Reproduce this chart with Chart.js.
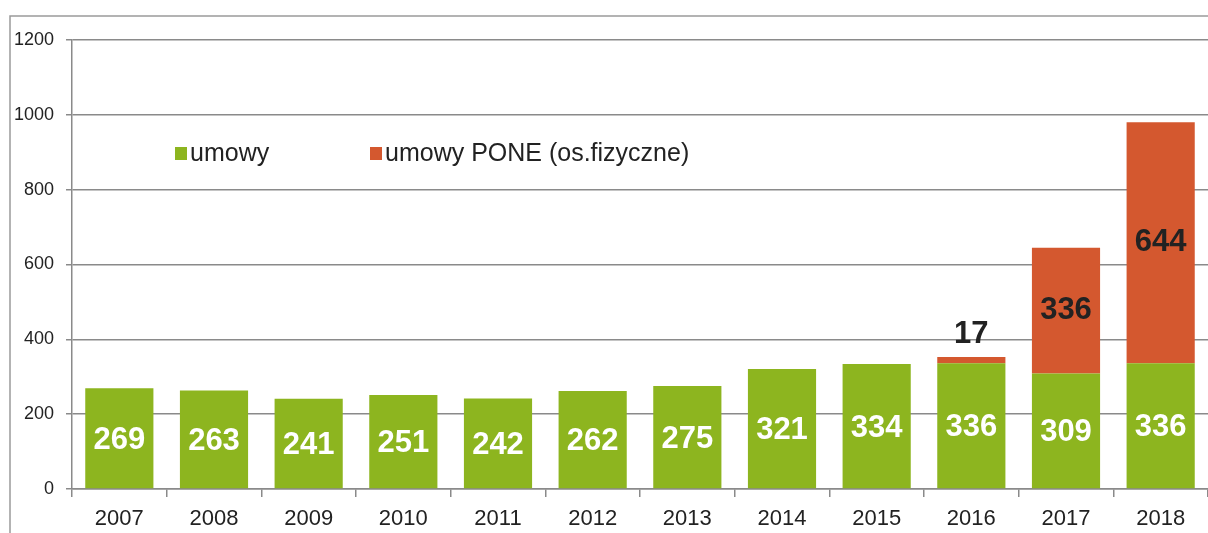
<!DOCTYPE html>
<html>
<head>
<meta charset="utf-8">
<script src="https://cdn.jsdelivr.net/npm/chart.js@4"></script>
<style>
  body { margin: 0; background: #fff; }
  canvas { display: block; }
</style>
</head>
<body>
<canvas id="umowyChart" width="1208" height="533"></canvas>
<script>
const lata = ["2007", "2008", "2009", "2010", "2011", "2012", "2013", "2014", "2015", "2016", "2017", "2018"];
const umowy = [269, 263, 241, 251, 242, 262, 275, 321, 334, 336, 309, 336];
const umowyPone = [null, null, null, null, null, null, null, null, null, 17, 336, 644];
const osY = [0, 200, 400, 600, 800, 1000, 1200];

const ZIELONY = "#8db51f";
const CZERWONY = "#d4582f";
const FONT = "'Liberation Sans', Arial, sans-serif";

// ramka, legenda i etykiety rysowane recznie
const dodatki = {
  id: "dodatki",
  beforeDraw(chart) {
    const ctx = chart.ctx;
    ctx.save();
    ctx.strokeStyle = "#9a9a9a";
    ctx.lineWidth = 1.5;
    ctx.beginPath();
    ctx.moveTo(10, 533);
    ctx.lineTo(10, 16);
    ctx.lineTo(1208, 16);
    ctx.stroke();
    ctx.restore();
  },
  afterDatasetsDraw(chart) {
    const ctx = chart.ctx;
    ctx.save();
    ctx.textAlign = "center";
    ctx.textBaseline = "middle";
    ctx.font = "bold 31px " + FONT;

    chart.data.datasets.forEach((ds, i) => {
      const meta = chart.getDatasetMeta(i);
      meta.data.forEach((bar, j) => {
        const v = ds.data[j];
        if (v == null) return;
        const h = Math.abs(bar.base - bar.y);
        if (i === 0) {
          ctx.fillStyle = "#ffffff";
          ctx.fillText(v, bar.x, (bar.y + bar.base) / 2 + 2);
        } else {
          ctx.fillStyle = "#222";
          if (h < 30) ctx.fillText(v, bar.x, bar.y - 22);
          else ctx.fillText(v, bar.x, (bar.y + bar.base) / 2);
        }
      });
    });

    // legenda
    ctx.textAlign = "left";
    ctx.font = "25px " + FONT;
    const pozycje = [175, 370];
    chart.data.datasets.forEach((ds, i) => {
      const x = pozycje[i];
      ctx.fillStyle = ds.backgroundColor;
      ctx.fillRect(x, 147, 12, 13);
      ctx.fillStyle = "#222";
      ctx.fillText(ds.label, x + 15, 154);
    });
    ctx.restore();
  }
};

new Chart(document.getElementById("umowyChart"), {
  type: "bar",
  data: {
    labels: lata,
    datasets: [
      { label: "umowy", data: umowy, backgroundColor: ZIELONY, barPercentage: 0.72, categoryPercentage: 1 },
      { label: "umowy PONE (os.fizyczne)", data: umowyPone, backgroundColor: CZERWONY, barPercentage: 0.72, categoryPercentage: 1 }
    ]
  },
  options: {
    responsive: false,
    animation: false,
    layout: { padding: { top: 40, right: 0, bottom: 0, left: 0 } },
    plugins: {
      legend: { display: false },
      tooltip: { enabled: false }
    },
    scales: {
      x: {
        stacked: true,
        afterFit: s => { s.height = 44; },
        grid: { display: true, drawOnChartArea: false, tickLength: 8, color: "#8a8a8a", lineWidth: 1.5 },
        border: { color: "#8a8a8a", width: 1.5 },
        ticks: { color: "#222", font: { family: FONT, size: 22 }, padding: 9 }
      },
      y: {
        stacked: true,
        min: 0,
        max: 1200,
        afterFit: s => { s.width = 72; },
        afterBuildTicks: s => { s.ticks = osY.map(v => ({ value: v })); },
        grid: { color: "#8a8a8a", lineWidth: 1.5, tickLength: 6 },
        border: { color: "#8a8a8a", width: 1.5 },
        ticks: { color: "#222", font: { family: FONT, size: 18 }, padding: 12, callback: v => String(v) }
      }
    }
  },
  plugins: [dodatki]
});
</script>
</body>
</html>
